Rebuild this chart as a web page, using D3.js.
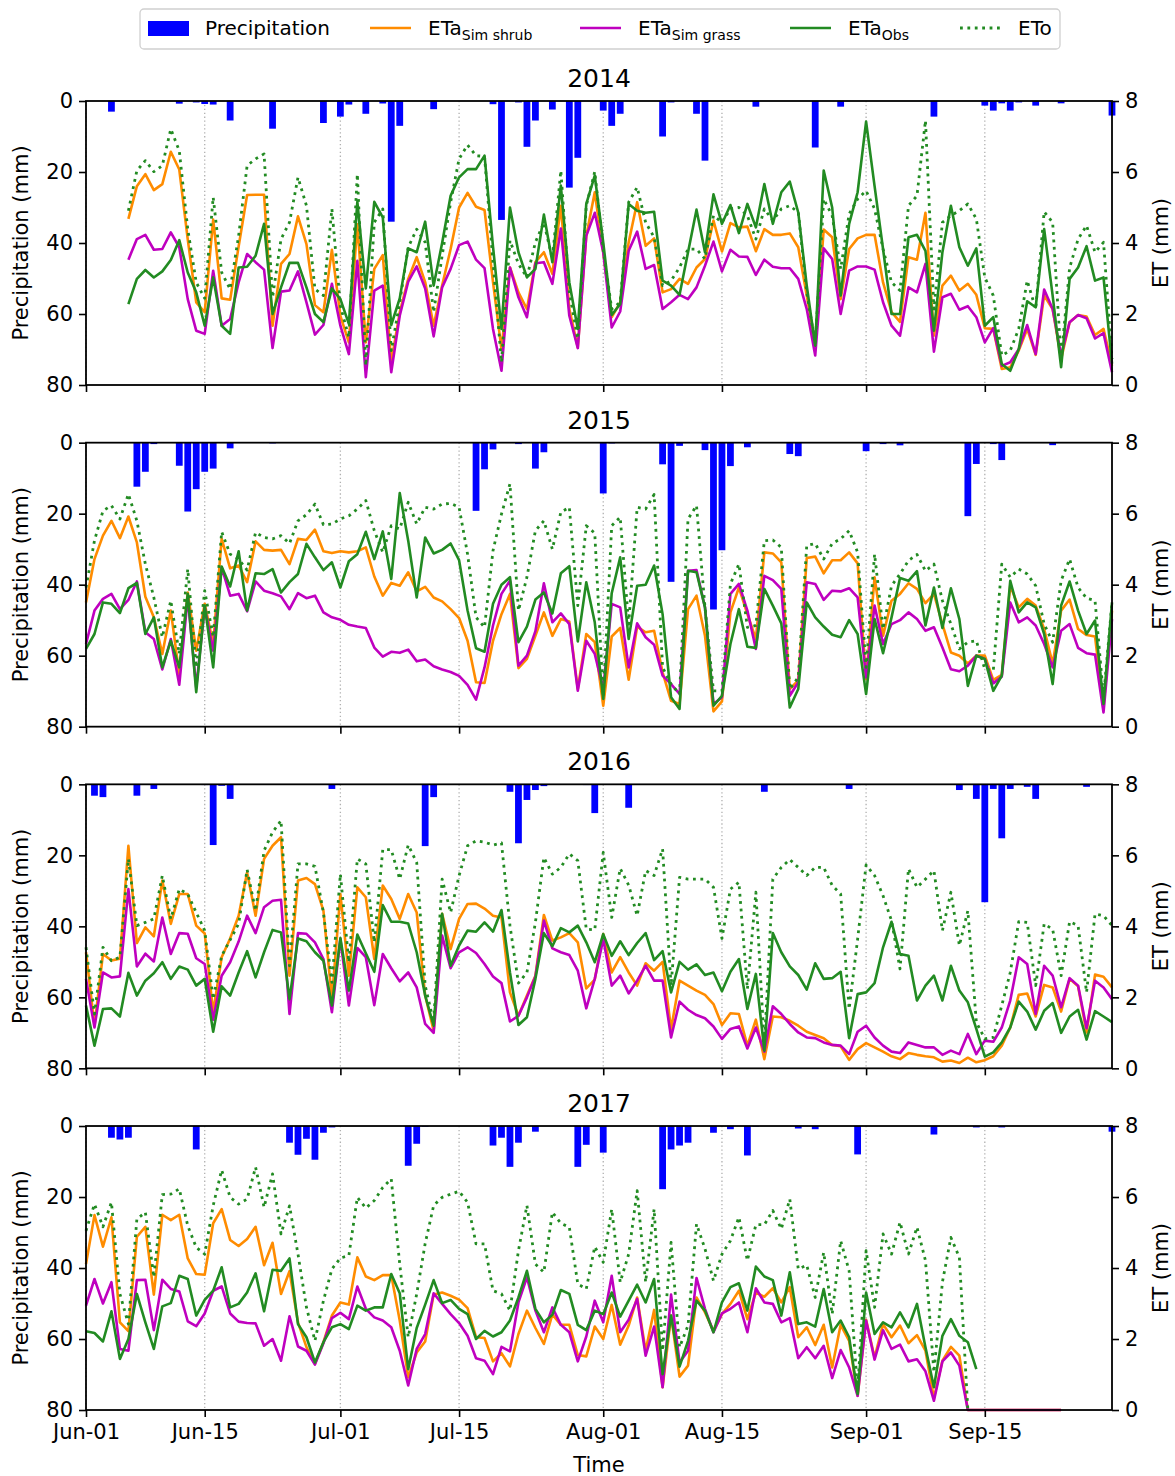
<!DOCTYPE html>
<html lang="en">
<head>
<meta charset="utf-8">
<script src="https://d3js.org/d3.v7.min.js"></script>
<style>
  body { margin: 0; background: #ffffff; }
  text { font-family: "DejaVu Sans", sans-serif; fill: #000000; }
</style>
</head>
<body>
<div id="chart"></div>
<script>
// ---- data (one value per day starting Jun-01, ET in mm) ----
var years = [2014, 2015, 2016, 2017];
var tickLabels = ["Jun-01", "Jun-15", "Jul-01", "Jul-15", "Aug-01", "Aug-15", "Sep-01", "Sep-15"];
var seriesNames = ["Precipitation", "ETa shrub", "ETa grass", "ETa Obs", "ETo"];

var shrub2014 = [null,null,null,null,null,4.68,5.6,5.94,5.49,5.66,6.57,6.07,4.1,2.33,2.05,4.66,2.44,2.4,3.9,5.35,5.36,5.36,1.67,3.41,3.69,4.75,3.97,2.25,2.05,3.81,1.95,1.2,4.53,1.2,3.27,3.66,0.64,2.05,2.99,3.6,2.9,
  1.67,2.8,3.83,5.0,5.41,5.02,4.93,2.9,1.01,3.31,2.61,2.14,3.46,3.74,3.13,5.05,2.14,1.06,4.2,5.43,3.74,1.91,2.33,4.02,5.15,3.92,4.13,2.61,2.7,2.99,2.85,3.31,3.55,4.63,3.76,4.56,4.44,4.46,3.77,4.39,
  4.23,4.23,4.27,3.88,2.52,1.15,4.38,4.16,2.42,3.83,4.13,4.23,4.23,2.89,2.05,1.78,3.6,3.53,4.85,1.39,2.8,3.08,2.66,2.85,2.54,1.6,1.58,0.45,0.5,0.97,1.58,0.85,2.52,2.14,0.73,1.77,1.97,1.93,1.41,1.58,0.54];
var grass2014 = [null,null,null,null,null,3.53,4.11,4.23,3.81,3.83,4.3,3.88,2.42,1.53,1.44,3.22,1.67,1.86,2.89,3.69,3.46,3.25,1.04,2.63,2.66,3.2,2.33,1.42,1.69,2.85,1.67,0.87,3.5,0.22,2.66,2.8,0.36,1.95,2.91,3.34,2.72,
  1.37,2.75,3.27,3.94,4.04,3.53,3.29,1.58,0.4,3.31,2.47,1.91,3.43,3.46,2.85,4.41,1.95,1.04,4.2,4.85,3.74,1.62,2.07,3.78,4.32,3.27,3.38,2.14,2.33,2.54,2.42,2.75,3.36,4.04,3.2,3.81,3.62,3.61,3.1,3.53,
  3.33,3.29,3.29,2.99,2.14,0.83,3.85,3.55,2.0,3.22,3.34,3.34,3.25,2.33,1.67,1.39,2.75,2.61,3.41,0.94,2.47,2.57,2.12,2.22,1.91,1.2,1.6,0.54,0.64,1.01,1.69,0.87,2.69,2.14,0.83,1.77,1.97,1.88,1.31,1.46,0.36];
var obs2014 = [null,null,null,null,null,2.28,2.99,3.24,3.03,3.2,3.52,4.08,3.17,2.61,1.67,3.03,1.67,1.44,3.31,3.33,3.64,4.54,2.0,2.75,3.44,3.44,2.75,2.0,1.77,2.72,2.42,1.72,5.16,2.72,5.16,4.72,1.69,2.44,3.85,3.74,4.6,
  2.8,4.0,5.33,5.85,6.08,6.08,6.46,3.9,1.58,5.0,3.74,3.03,3.27,4.8,3.46,5.62,2.89,1.58,5.1,5.9,4.02,1.97,2.28,5.1,4.91,4.85,4.88,2.94,2.8,2.54,3.74,4.94,3.74,5.37,4.54,5.07,4.28,5.1,4.44,5.66,
  4.54,5.43,5.73,4.86,2.8,1.11,6.04,5.0,2.52,4.54,5.43,7.42,5.6,3.83,2.0,2.0,4.16,4.23,3.78,1.53,3.74,5.05,3.88,3.36,3.85,1.67,1.91,0.59,0.4,1.01,2.36,2.19,4.39,2.52,0.5,2.99,3.31,3.91,2.94,3.03,0.6];
var eto2014 = [null,null,null,null,null,4.91,6.04,6.32,6.01,6.18,7.21,6.6,4.39,2.89,2.44,5.29,3.17,2.7,4.2,6.18,6.37,6.51,2.47,4.11,4.58,5.85,5.05,2.7,2.52,4.96,2.23,1.34,5.94,0.54,4.58,4.96,0.97,2.33,3.88,4.39,4.02,
  2.05,3.64,5.15,6.37,6.76,6.46,6.44,3.46,0.64,4.07,3.41,3.03,4.02,4.58,3.55,6.04,2.61,1.3,5.05,6.01,3.83,2.14,2.33,5.15,5.57,4.58,4.16,2.8,2.94,3.31,3.83,3.83,3.55,4.77,4.58,4.96,5.0,4.77,4.11,4.96,
  4.63,4.96,5.05,4.86,2.61,1.15,5.24,4.77,3.27,4.82,5.24,5.47,4.96,3.83,2.89,2.66,5.05,5.33,7.45,2.14,4.58,4.77,4.91,5.1,4.68,3.03,2.52,0.83,0.97,1.58,2.94,2.14,4.88,4.58,0.73,3.3,4.11,4.49,3.74,4.02,0.73];
var rainDay2014 = [3,11,13,14,15,17,22,28,30,31,33,35,36,37,41,48,49,51,52,53,55,57,58,61,62,63,68,69,72,73,79,86,89,100,106,107,108,109,110,112,115,121];
var rainMm2014 = [3.0,0.75,0.4,0.85,1.0,5.5,7.8,6.2,4.4,1.0,3.6,0.7,34,7.0,2.3,0.9,33.5,0.4,12.9,5.5,2.4,24.4,16,2.7,7.0,3.6,10,0.4,3.6,16.8,1.6,13.1,1.6,4.4,1.3,2.7,0.66,2.7,0.4,1.3,0.66,4.1];

var shrub2015 = [3.5,4.72,5.38,5.8,5.31,5.92,5.19,3.66,3.08,2.05,3.27,1.48,3.78,2.14,3.46,2.33,5.29,4.46,4.54,4.07,5.22,4.98,4.96,4.98,4.58,5.29,5.26,5.55,4.94,4.89,4.94,4.91,4.94,5.05,4.23,3.69,4.05,3.97,4.35,3.81,
  3.94,3.64,3.53,3.31,3.06,2.42,1.25,1.23,2.42,3.17,3.74,1.65,1.91,2.56,3.22,2.56,3.03,2.96,1.06,2.61,2.38,0.59,2.54,2.78,1.32,2.82,2.66,2.7,1.53,0.73,0.64,3.31,3.69,2.56,0.43,0.71,3.22,3.92,3.17,2.47,
  4.91,4.88,4.63,1.06,1.3,4.75,4.79,4.32,4.69,4.69,4.91,4.6,1.34,4.21,2.56,3.55,3.74,4.04,3.88,3.48,3.74,2.89,2.09,2.0,1.78,2.0,2.0,1.32,1.46,3.97,3.36,3.6,3.41,2.75,1.77,3.27,3.58,2.75,2.58,2.54,0.54,3.27];
var grass2015 = [2.33,3.27,3.6,3.74,3.31,3.57,4.09,2.66,2.47,1.61,2.47,1.18,3.64,1.1,3.36,2.14,4.49,3.69,3.74,3.25,4.09,3.83,3.76,3.67,3.31,3.76,3.62,3.69,3.22,3.08,3.01,2.87,2.82,2.78,2.23,1.97,2.11,2.08,2.17,1.84,
  1.89,1.7,1.61,1.54,1.43,1.18,0.76,1.67,2.85,3.74,4.11,1.72,2.0,2.69,4.04,2.94,3.19,2.89,1.01,2.42,2.05,1.06,3.46,3.36,1.67,2.91,2.52,2.31,1.44,1.2,0.92,4.39,4.41,3.36,0.64,0.83,3.74,4.02,3.27,2.19,
  4.25,4.13,3.88,0.87,1.25,4.07,4.02,3.57,3.83,3.81,3.9,3.64,1.39,3.41,2.33,2.89,3.0,3.22,3.03,2.7,2.8,2.23,1.62,1.56,1.72,2.0,1.91,1.22,1.41,3.5,2.94,3.08,2.85,2.33,1.67,2.7,2.89,2.22,2.07,2.03,0.4,3.03];
var obs2015 = [2.19,2.61,3.5,3.46,3.2,3.9,4.05,2.61,3.08,1.67,2.42,1.67,3.74,0.97,3.41,1.67,4.51,3.95,4.94,3.27,4.32,4.3,4.44,3.78,4.07,4.3,5.15,4.77,4.41,4.63,3.92,4.66,4.86,5.49,4.72,5.5,4.16,6.58,5.24,3.64,
  5.33,4.88,4.98,5.16,4.69,3.27,2.21,2.11,3.46,4.0,4.21,2.38,2.82,3.58,3.78,3.19,4.32,4.52,2.4,4.07,2.94,0.78,3.76,4.77,2.47,3.97,4.0,4.54,3.17,0.83,0.5,4.39,4.35,3.36,0.59,0.87,2.33,3.31,2.25,2.22,
  3.88,3.41,2.91,0.54,1.06,3.5,3.08,2.82,2.59,2.52,3.0,2.61,0.92,3.03,2.07,3.08,4.19,4.11,4.38,2.85,3.92,2.78,3.9,3.03,1.15,2.0,1.91,1.01,1.44,4.11,3.22,3.5,3.36,2.61,1.2,3.41,4.09,3.27,2.61,2.99,0.64,3.5];
var eto2015 = [3.92,5.24,6.08,6.23,5.85,6.55,5.8,4.58,3.64,2.52,3.55,2.05,4.44,1.67,3.83,2.52,5.49,4.86,4.72,4.41,5.47,5.33,5.29,5.38,5.16,5.8,5.97,6.27,5.69,5.71,5.85,5.94,6.13,6.37,5.52,4.91,5.66,5.57,6.32,5.71,
  6.18,6.13,6.27,6.29,6.18,4.86,3.08,2.8,4.96,5.99,6.84,3.27,4.21,5.52,5.8,5.0,6.04,6.18,3.41,5.66,5.45,0.83,5.66,5.9,2.89,6.18,6.13,6.54,1.67,1.2,0.92,5.85,6.23,3.36,1.01,1.01,4.02,4.58,2.8,2.85,
  5.24,5.26,5.05,1.06,1.39,5.1,5.16,4.72,5.16,5.29,5.52,4.91,1.67,4.86,2.75,3.97,4.3,4.68,4.85,4.39,4.58,3.55,2.89,2.19,2.38,2.42,1.62,1.58,4.58,4.21,4.44,4.3,3.97,2.89,2.38,4.11,4.72,3.92,3.62,3.55,0.83,3.5];
var rainDay2015 = [6,7,8,11,12,13,14,15,17,22,46,47,48,51,53,54,61,62,68,69,70,73,74,75,76,78,83,84,92,94,96,104,105,107,108,114];
var rainMm2015 = [12.4,8.2,0.4,6.5,19.4,13.1,8.2,7.3,1.6,0.2,19.2,7.5,1.9,0.4,7.3,2.7,14.3,0.2,6.1,39.2,0.9,2.1,47,30.3,6.6,1.3,3.2,3.8,2.4,0.4,0.75,20.7,6.0,0.4,4.9,0.7];

var shrub2016 = [3.27,1.2,3.22,3.04,3.09,6.27,3.53,3.97,3.72,5.29,4.07,4.91,4.91,4.02,3.8,1.58,3.13,3.66,4.3,5.52,4.3,5.9,6.27,6.51,2.61,5.29,5.36,5.19,4.44,1.95,4.91,2.61,5.1,4.82,3.08,5.15,4.77,4.21,4.91,4.39,
  2.05,1.06,4.35,3.36,4.21,4.63,4.64,4.5,4.3,4.25,2.14,1.48,2.05,2.61,4.32,3.6,3.69,3.81,3.55,2.25,2.5,3.78,2.7,3.13,2.7,2.33,2.96,2.75,3.0,1.11,2.47,2.33,2.19,2.07,1.81,1.22,1.55,1.53,0.64,1.37,
  0.26,1.46,1.44,1.34,1.2,1.03,0.94,0.85,0.66,0.62,0.24,0.54,0.71,0.59,0.47,0.34,0.26,0.43,0.38,0.34,0.31,0.19,0.22,0.15,0.3,0.17,0.23,0.34,0.64,1.15,2.07,2.11,1.46,2.35,2.28,1.6,2.52,2.31,1.01,2.64,2.58,2.28];
var grass2016 = [2.52,1.15,2.7,2.56,2.59,5.05,2.87,3.23,3.01,4.25,3.22,3.81,3.79,3.1,2.94,1.37,2.61,2.99,3.57,4.3,3.81,4.54,4.72,4.75,1.53,3.81,3.79,3.55,3.08,1.58,3.64,1.77,3.39,3.13,1.78,3.22,2.82,2.45,2.7,2.28,
  1.25,1.0,3.74,2.82,3.27,3.41,3.25,2.94,2.59,2.4,1.32,1.48,2.0,2.59,4.16,3.38,3.27,3.19,2.75,1.69,2.52,3.64,2.33,2.61,2.11,2.47,2.89,2.47,2.47,0.87,1.88,1.65,1.5,1.41,1.18,0.83,1.11,1.18,0.56,1.15,
  0.47,1.75,1.53,1.25,1.01,0.87,0.85,0.73,0.66,0.64,0.4,1.03,1.2,0.87,0.64,0.47,0.43,0.73,0.66,0.59,0.59,0.38,0.5,0.4,0.97,0.4,0.78,0.75,1.15,1.91,3.13,2.94,1.53,2.89,2.61,1.72,2.54,2.33,1.13,2.47,2.28,1.95];
var obs2016 = [1.77,0.64,1.67,1.69,1.46,2.69,2.05,2.47,2.68,2.99,2.52,2.87,2.78,2.33,2.52,1.03,2.31,2.05,2.7,3.3,2.56,3.27,3.9,3.83,1.95,3.66,3.58,3.27,3.03,1.77,3.67,2.19,3.77,3.24,2.72,4.6,4.13,4.13,4.08,3.27,
  2.05,1.2,4.35,2.89,3.46,3.88,3.85,4.11,3.85,4.46,2.7,1.22,1.44,2.52,3.81,3.44,3.95,3.83,4.02,3.55,2.99,3.78,3.17,3.58,3.19,3.53,3.81,3.05,3.3,2.14,3.0,2.78,2.93,2.63,2.7,2.17,2.72,3.08,1.67,2.66,
  0.5,3.81,3.27,2.87,2.63,2.22,2.96,2.52,2.54,2.72,0.85,2.09,2.14,2.4,3.41,4.13,3.22,3.17,1.91,2.33,2.61,1.91,2.89,2.19,1.86,1.11,0.33,0.45,0.73,1.15,1.88,1.6,1.09,1.62,1.84,1.0,1.46,1.65,0.81,1.61,1.46,1.3];
var eto2016 = [3.41,1.53,3.41,3.03,3.13,5.9,4.02,4.11,4.21,5.43,4.21,5.05,4.91,4.39,3.88,1.95,3.17,3.62,4.07,5.6,4.44,6.13,6.65,6.98,2.89,5.76,5.76,5.69,4.39,2.42,5.47,2.99,5.9,5.76,3.55,6.16,6.16,5.33,6.29,5.8,
  2.33,1.3,5.33,4.39,5.43,6.27,6.41,6.37,6.29,6.35,4.02,2.4,2.7,4.11,5.94,5.47,5.66,6.04,5.85,3.92,3.9,6.08,4.25,5.63,5.16,4.3,5.57,5.43,6.18,2.33,5.38,5.33,5.33,5.33,5.1,3.66,5.05,5.24,2.23,4.96,
  0.64,5.33,5.66,5.88,5.66,5.43,5.66,5.66,5.15,4.91,1.67,3.64,5.73,5.43,4.86,4.16,2.8,5.62,5.1,5.33,5.57,3.88,4.96,3.46,4.44,1.3,0.83,0.87,1.77,2.7,4.13,4.11,2.33,4.07,3.92,2.61,4.13,4.02,2.14,4.35,4.3,4.02];
var rainDay2016 = [1,2,6,8,14,15,16,17,29,40,41,50,51,52,53,54,59,60,64,80,90,91,103,105,106,107,108,109,111,112,118];
var rainMm2016 = [3.2,3.6,3.2,1.3,0.2,17.1,0.4,4.1,1.3,17.4,3.6,2.1,16.6,4.4,1.6,0.5,0.2,8.1,6.6,2.1,1.3,0.2,1.6,4.1,33.2,1.3,15.2,1.3,0.7,4.1,0.7];

var shrub2017 = [4.11,5.49,4.6,5.43,2.47,2.22,4.88,5.16,3.25,5.5,5.35,5.5,4.27,3.83,3.81,5.26,5.66,4.79,4.62,4.82,5.16,4.08,4.71,3.27,3.91,2.47,1.77,1.3,1.91,2.66,3.03,2.97,4.3,3.76,3.66,3.8,3.8,2.52,0.92,1.62,
  1.93,3.25,3.31,3.22,3.11,2.87,2.05,2.03,1.37,1.6,1.23,2.14,2.8,2.31,1.86,2.69,2.4,2.4,1.55,1.51,2.35,2.0,2.96,1.84,2.38,3.17,1.67,2.82,0.64,2.66,0.94,1.25,3.17,2.75,2.23,2.7,2.99,3.36,2.56,3.31,
  3.19,3.43,3.03,3.46,2.05,2.33,1.83,2.4,1.2,2.4,1.95,0.4,2.54,1.48,2.42,2.05,2.38,1.88,2.11,1.67,0.34,1.39,1.78,1.53,0,0,0,0,0,0,0,0,0,0,0,0];
var grass2017 = [2.94,3.69,3.0,3.6,1.72,1.67,3.66,3.67,2.25,3.67,3.41,3.34,2.5,2.36,2.72,3.36,3.48,2.72,2.49,2.45,2.44,1.81,2.0,1.39,2.64,1.79,1.67,1.28,1.88,2.59,2.74,2.56,3.48,2.85,2.61,2.52,2.33,1.67,0.69,1.72,
  2.14,3.29,2.99,2.7,2.45,2.09,1.46,1.39,1.01,1.78,1.65,3.03,3.74,2.8,2.19,2.89,2.4,2.19,1.37,2.07,3.08,2.47,3.78,2.19,2.54,3.13,1.53,2.35,0.64,3.25,1.34,1.67,3.72,2.85,2.19,2.72,2.85,3.03,2.19,3.43,
  3.03,2.99,2.47,2.59,1.46,1.77,1.46,1.81,0.9,1.69,1.2,0.4,2.52,1.42,2.25,1.72,1.84,1.37,1.43,1.09,0.26,1.37,1.62,1.25,0,0,0,0,0,0,0,0,0,0,0,0];
var obs2017 = [2.22,2.17,1.93,2.78,1.44,2.0,3.27,2.47,1.72,2.92,3.01,3.78,3.69,2.66,3.1,3.36,4.02,2.89,2.99,3.31,3.85,2.78,3.95,3.92,4.27,2.42,2.05,1.34,1.91,2.33,2.42,2.28,2.94,2.8,2.89,2.89,3.83,3.29,1.15,2.31,
  2.97,3.66,3.01,3.1,2.85,2.7,2.0,2.23,2.07,2.19,2.52,3.17,3.92,2.85,2.47,2.68,3.38,3.27,2.4,2.25,2.8,2.7,3.31,2.63,3.08,3.53,3.03,3.69,1.01,2.66,1.22,1.95,3.08,2.8,2.19,3.03,3.46,3.57,2.8,4.04,
  3.76,3.66,2.66,3.88,2.42,2.47,2.35,3.41,2.19,2.52,2.05,0.45,3.31,2.14,2.47,2.33,2.75,2.33,2.99,1.77,0.64,2.09,2.56,2.09,1.91,1.15];
var eto2017 = [5.05,5.8,5.16,5.85,3.27,2.42,5.38,5.57,3.74,6.07,6.08,6.23,5.19,4.58,4.39,5.76,6.76,5.99,5.8,5.94,6.84,5.71,6.65,4.96,5.75,4.39,2.89,1.95,3.08,3.97,4.28,4.35,5.99,5.69,5.9,6.27,6.51,4.11,2.05,3.27,
  4.69,5.76,5.99,6.08,6.16,5.85,4.68,4.68,3.36,3.27,2.8,4.49,5.76,4.11,3.88,5.57,5.26,5.15,3.55,3.41,4.6,4.16,5.66,3.6,4.39,6.18,3.6,5.66,1.67,4.72,1.77,2.38,5.24,4.54,3.64,4.39,4.77,5.43,4.21,5.22,
  5.22,5.62,5.1,5.94,3.97,4.08,3.17,4.44,2.7,4.77,3.92,0.54,4.49,2.89,4.96,4.39,5.29,4.39,5.15,4.21,1.06,3.6,4.86,4.3,0];
var rainDay2017 = [3,4,5,13,24,25,26,27,28,29,38,39,40,48,49,50,51,53,58,59,61,68,69,70,71,74,76,78,79,84,86,91,100,105,108,121];
var rainMm2017 = [3.3,3.8,3.3,6.6,4.7,8.1,3.6,9.5,1.9,0.4,11.2,5.0,0.2,5.5,3.3,11.5,4.7,1.6,11.5,5.3,7.5,17.8,6.6,5.5,4.7,1.9,0.9,8.3,0.2,0.7,0.9,8.0,2.4,0.4,0.4,1.6];

var shrubAll = [shrub2014, shrub2015, shrub2016, shrub2017];
var grassAll = [grass2014, grass2015, grass2016, grass2017];
var obsAll = [obs2014, obs2015, obs2016, obs2017];
var etoAll = [eto2014, eto2015, eto2016, eto2017];
var rainDays = [rainDay2014, rainDay2015, rainDay2016, rainDay2017];
var rainMms = [rainMm2014, rainMm2015, rainMm2016, rainMm2017];

// ---- layout ----
var W = 1175, H = 1476;
var left = 86, right = 1112, panelH = 284, panelStep = 341.67, firstTop = 101;
var colors = {rain: "#0000ff", shrub: "#ff8c00", grass: "#bf00bf", obs: "#228b22", eto: "#228b22"};
var lw = 2.6;

var svg = d3.select("#chart").append("svg")
  .attr("width", W).attr("height", H)
  .attr("viewBox", "0 0 " + W + " " + H);

// common reference year for the x axis
function dayDate(i) { return new Date(2014, 5, 1 + i); }
var x = d3.scaleTime()
  .domain([dayDate(0), dayDate(121)])
  .range([left, right]);
var fmt = d3.timeFormat("%b-%d");
var tickDates = tickLabels.map(function(s) { return d3.timeParse("%b-%d-%Y")(s + "-2014"); });
var dayWidth = x(dayDate(1)) - x(dayDate(0));

years.forEach(function(yr, k) {
  var top = firstTop + k * panelStep, bottom = top + panelH;
  var g = svg.append("g");

  var yRain = d3.scaleLinear().domain([0, 80]).range([top, bottom]);
  var yET = d3.scaleLinear().domain([0, 8]).range([bottom, top]);

  // vertical dotted grid
  g.selectAll(".grid").data(tickDates).enter().append("line")
    .attr("x1", function(d) { return x(d); }).attr("x2", function(d) { return x(d); })
    .attr("y1", top).attr("y2", bottom)
    .attr("stroke", "#b0b0b0").attr("stroke-width", 1.3)
    .attr("stroke-dasharray", "1.3 2.6");

  // precipitation bars hanging from the top
  var bw = 0.8 * dayWidth;
  var rainData = rainDays[k].map(function(d, i) { return {day: d, mm: rainMms[k][i]}; });
  g.selectAll(".bar").data(rainData).enter().append("rect")
    .attr("x", function(d) { return x(dayDate(d.day)) - bw / 2; })
    .attr("y", yRain(0))
    .attr("width", bw)
    .attr("height", function(d) { return yRain(d.mm) - yRain(0); })
    .attr("fill", colors.rain);

  function drawLine(vals, color, dash) {
    var line = d3.line()
      .defined(function(d) { return d != null; })
      .x(function(d, i) { return x(dayDate(i)); })
      .y(function(d) { return yET(d); });
    var p = g.append("path")
      .attr("d", line(vals))
      .attr("fill", "none")
      .attr("stroke", color)
      .attr("stroke-width", lw)
      .attr("stroke-linejoin", "round");
    if (dash) p.attr("stroke-dasharray", dash).attr("stroke-width", 2.8);
  }
  drawLine(shrubAll[k], colors.shrub);
  drawLine(grassAll[k], colors.grass);
  drawLine(obsAll[k], colors.obs);
  drawLine(etoAll[k], colors.eto, "2.8 4.6");

  // left axis: precipitation
  var axL = g.append("g").attr("transform", "translate(" + left + ",0)")
    .call(d3.axisLeft(yRain).tickValues([0, 20, 40, 60, 80]).tickSize(7).tickPadding(6));
  // right axis: ET
  var axR = g.append("g").attr("transform", "translate(" + right + ",0)")
    .call(d3.axisRight(yET).tickValues([0, 2, 4, 6, 8]).tickSize(7).tickPadding(6));
  // bottom axis
  var axB = g.append("g").attr("transform", "translate(0," + bottom + ")")
    .call(d3.axisBottom(x).tickValues(tickDates).tickFormat(k === 3 ? fmt : "").tickSize(7).tickPadding(7));

  [axL, axR, axB].forEach(function(a) {
    a.select(".domain").remove();
    a.selectAll(".tick line").attr("stroke", "#000").attr("stroke-width", 1.6);
    a.selectAll(".tick text").style("font-size", "21px").style("font-family", "DejaVu Sans");
  });

  // frame
  g.append("rect")
    .attr("x", left).attr("y", top)
    .attr("width", right - left).attr("height", panelH)
    .attr("fill", "none").attr("stroke", "#000").attr("stroke-width", 1.8);

  // title
  g.append("text")
    .attr("x", (left + right) / 2).attr("y", top - 14)
    .attr("text-anchor", "middle")
    .style("font-size", "25px")
    .text(yr);

  // axis labels
  g.append("text")
    .attr("transform", "translate(28," + (top + panelH / 2) + ") rotate(-90)")
    .attr("text-anchor", "middle")
    .style("font-size", "21px")
    .text("Precipitation (mm)");
  g.append("text")
    .attr("transform", "translate(1168," + (top + panelH / 2) + ") rotate(-90)")
    .attr("text-anchor", "middle")
    .style("font-size", "21px")
    .text("ET (mm)");
});

svg.append("text")
  .attr("x", (left + right) / 2).attr("y", 1472)
  .attr("text-anchor", "middle")
  .style("font-size", "21px")
  .text("Time");

// ---- legend ----
var lg = svg.append("g");
lg.append("rect")
  .attr("x", 140).attr("y", 9).attr("width", 920).attr("height", 40).attr("rx", 4)
  .attr("fill", "#ffffff").attr("stroke", "#d0d0d0").attr("stroke-width", 1.3);

lg.append("rect").attr("x", 148).attr("y", 21).attr("width", 41).attr("height", 15).attr("fill", colors.rain);
lg.append("text").attr("x", 205).attr("y", 35).style("font-size", "20px").text(seriesNames[0]);

var legendLines = [
  {x: 370, color: colors.shrub, dash: null, main: "ETa", sub: "Sim shrub"},
  {x: 580, color: colors.grass, dash: null, main: "ETa", sub: "Sim grass"},
  {x: 790, color: colors.obs, dash: null, main: "ETa", sub: "Obs"},
  {x: 960, color: colors.eto, dash: "2.8 4.6", main: "ETo", sub: ""}
];
legendLines.forEach(function(d) {
  var l = lg.append("line")
    .attr("x1", d.x).attr("x2", d.x + 41).attr("y1", 28).attr("y2", 28)
    .attr("stroke", d.color).attr("stroke-width", lw);
  if (d.dash) l.attr("stroke-dasharray", d.dash).attr("stroke-width", 2.8);
  var t = lg.append("text").attr("x", d.x + 58).attr("y", 35).style("font-size", "20px");
  t.append("tspan").text(d.main);
  if (d.sub) t.append("tspan").attr("dy", 5).style("font-size", "14px").text(d.sub);
});
</script>
</body>
</html>
